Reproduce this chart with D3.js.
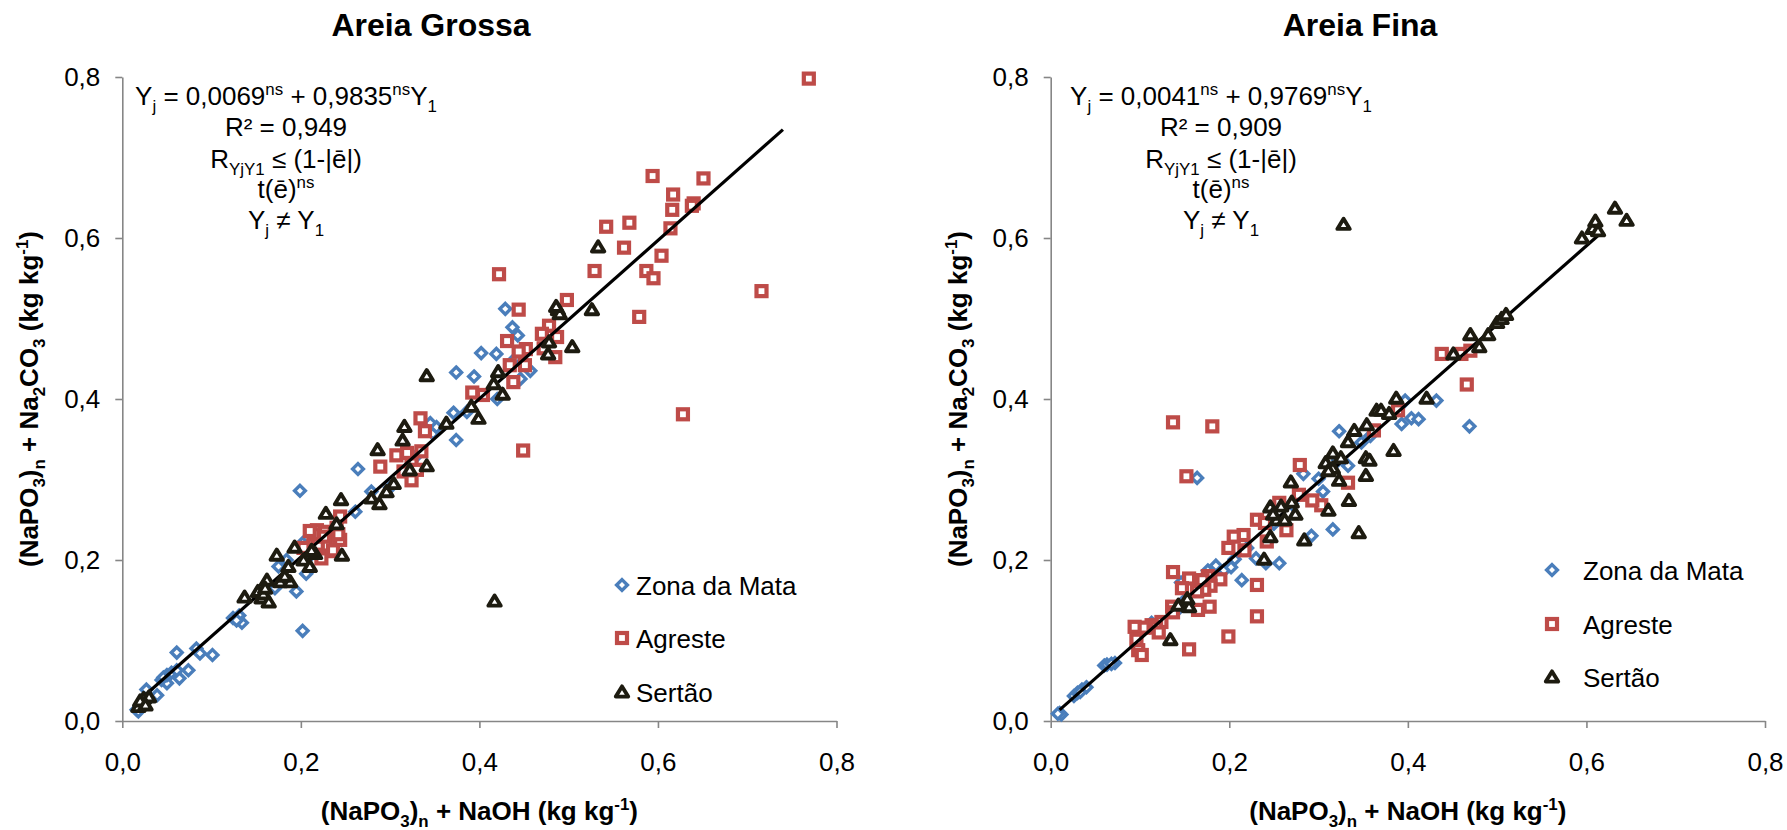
<!DOCTYPE html>
<html>
<head>
<meta charset="utf-8">
<script src="https://cdn.jsdelivr.net/npm/d3@7"></script>
<style>
  body { margin: 0; background: #fff; }
  svg { display: block; }
  text { font-family: "Liberation Sans", Arial, Helvetica, sans-serif; fill: #000; }
</style>
</head>
<body>
<svg id="chart" width="1787" height="830"></svg>
<script>
// ---- data -------------------------------------------------------------
const tickValues = [0, 0.2, 0.4, 0.6, 0.8];
const seriesNames = ["Zona da Mata", "Agreste", "Sertão"];
const panelTitles = ["Areia Grossa", "Areia Fina"];

// Areia Grossa: [(NaPO3)n + NaOH, (NaPO3)n + Na2CO3]
const grossaMata = [
  [0.016,0.014],[0.020,0.016],[0.018,0.012],[0.022,0.019],[0.027,0.039],[0.030,0.028],
  [0.039,0.032],[0.044,0.051],[0.050,0.047],[0.050,0.057],[0.046,0.054],[0.055,0.060],
  [0.064,0.053],[0.061,0.063],[0.074,0.063],[0.061,0.085],[0.083,0.090],[0.087,0.084],
  [0.101,0.082],[0.124,0.128],[0.131,0.131],[0.134,0.122],[0.128,0.125],[0.171,0.165],
  [0.175,0.192],[0.184,0.200],[0.195,0.161],[0.202,0.112],[0.206,0.183],[0.202,0.221],
  [0.199,0.286],[0.210,0.205],[0.225,0.215],[0.261,0.260],[0.264,0.313],[0.279,0.285],
  [0.300,0.290],[0.345,0.370],[0.348,0.357],[0.352,0.365],[0.371,0.383],[0.374,0.349],
  [0.374,0.433],[0.386,0.384],[0.394,0.428],[0.402,0.457],[0.419,0.456],[0.429,0.512],
  [0.437,0.489],[0.443,0.479],[0.446,0.425],[0.457,0.435],[0.420,0.400],[0.440,0.450],
  [0.330,0.330],[0.320,0.315]
];
const grossaAgreste = [
  [0.769,0.798],[0.594,0.677],[0.651,0.674],[0.617,0.654],[0.616,0.635],[0.640,0.643],
  [0.638,0.640],[0.614,0.612],[0.542,0.614],[0.568,0.619],[0.562,0.588],[0.604,0.578],
  [0.529,0.559],[0.587,0.559],[0.595,0.550],[0.716,0.534],[0.422,0.555],[0.579,0.502],
  [0.498,0.523],[0.444,0.511],[0.628,0.381],[0.478,0.491],[0.470,0.481],[0.487,0.477],
  [0.431,0.472],[0.452,0.462],[0.472,0.463],[0.485,0.452],[0.444,0.459],[0.434,0.442],
  [0.451,0.442],[0.438,0.421],[0.392,0.408],[0.404,0.405],[0.334,0.376],[0.339,0.360],
  [0.449,0.336],[0.289,0.316],[0.307,0.330],[0.319,0.333],[0.335,0.335],[0.324,0.320],
  [0.315,0.310],[0.324,0.299],[0.330,0.312],[0.244,0.254],[0.218,0.237],[0.227,0.235],
  [0.238,0.233],[0.214,0.225],[0.224,0.225],[0.235,0.225],[0.244,0.225],[0.203,0.215],
  [0.221,0.211],[0.231,0.211],[0.223,0.202],[0.232,0.222],[0.240,0.240],[0.215,0.232],
  [0.228,0.218],[0.236,0.212],[0.219,0.219],[0.242,0.232],[0.210,0.236],[0.226,0.229]
];
const grossaSertao = [
  [0.533,0.589],[0.488,0.511],[0.490,0.506],[0.486,0.515],[0.526,0.511],[0.478,0.471],
  [0.504,0.465],[0.477,0.456],[0.341,0.429],[0.421,0.434],[0.416,0.419],[0.426,0.406],
  [0.391,0.391],[0.399,0.376],[0.363,0.370],[0.316,0.366],[0.314,0.349],[0.286,0.337],
  [0.322,0.312],[0.341,0.317],[0.304,0.295],[0.296,0.285],[0.279,0.277],[0.288,0.270],
  [0.245,0.275],[0.228,0.258],[0.240,0.245],[0.216,0.208],[0.246,0.206],[0.193,0.216],
  [0.203,0.200],[0.210,0.192],[0.173,0.206],[0.186,0.192],[0.162,0.175],[0.177,0.173],
  [0.188,0.173],[0.152,0.161],[0.137,0.154],[0.156,0.153],[0.164,0.148],[0.417,0.149],
  [0.022,0.022],[0.024,0.028],[0.030,0.030],[0.018,0.018],[0.020,0.025],[0.026,0.020],
  [0.212,0.212],[0.158,0.158],[0.160,0.165],[0.182,0.180]
];

// Areia Fina
const finaMata = [
  [0.010,0.010],[0.012,0.008],[0.008,0.009],[0.026,0.031],[0.030,0.035],[0.035,0.039],
  [0.040,0.042],[0.033,0.036],[0.060,0.069],[0.063,0.070],[0.072,0.072],[0.068,0.071],
  [0.113,0.122],[0.143,0.139],[0.146,0.172],[0.164,0.302],[0.176,0.187],[0.185,0.193],
  [0.194,0.187],[0.202,0.191],[0.206,0.201],[0.214,0.175],[0.230,0.202],[0.241,0.196],
  [0.256,0.196],[0.292,0.230],[0.316,0.238],[0.283,0.307],[0.300,0.301],[0.305,0.285],
  [0.322,0.324],[0.333,0.317],[0.323,0.360],[0.348,0.346],[0.358,0.354],[0.393,0.369],
  [0.397,0.398],[0.404,0.376],[0.412,0.375],[0.432,0.398],[0.469,0.366],[0.270,0.270],
  [0.250,0.245],[0.220,0.215],[0.150,0.150],[0.120,0.115]
];
const finaAgreste = [
  [0.137,0.371],[0.181,0.366],[0.152,0.304],[0.466,0.418],[0.438,0.456],[0.460,0.456],
  [0.389,0.386],[0.362,0.361],[0.333,0.296],[0.279,0.318],[0.303,0.268],[0.293,0.274],
  [0.278,0.281],[0.264,0.237],[0.256,0.271],[0.231,0.250],[0.240,0.246],[0.242,0.223],
  [0.216,0.231],[0.205,0.229],[0.199,0.215],[0.217,0.212],[0.231,0.169],[0.231,0.130],
  [0.199,0.105],[0.155,0.089],[0.137,0.185],[0.155,0.177],[0.176,0.180],[0.190,0.176],
  [0.179,0.168],[0.172,0.163],[0.178,0.142],[0.165,0.138],[0.147,0.165],[0.136,0.142],
  [0.137,0.135],[0.124,0.123],[0.113,0.119],[0.104,0.116],[0.094,0.117],[0.096,0.101],
  [0.098,0.088],[0.102,0.082],[0.118,0.116],[0.121,0.110],[0.164,0.161],[0.170,0.175],
  [0.470,0.460]
];
const finaSertao = [
  [0.451,0.456],[0.421,0.401],[0.387,0.401],[0.365,0.386],[0.370,0.386],[0.379,0.382],
  [0.354,0.368],[0.340,0.361],[0.333,0.347],[0.384,0.336],[0.353,0.327],[0.357,0.324],
  [0.353,0.305],[0.316,0.333],[0.325,0.327],[0.308,0.321],[0.316,0.314],[0.311,0.311],
  [0.323,0.299],[0.334,0.274],[0.311,0.262],[0.269,0.297],[0.270,0.272],[0.274,0.257],
  [0.258,0.267],[0.253,0.250],[0.246,0.266],[0.249,0.257],[0.262,0.250],[0.345,0.234],
  [0.284,0.225],[0.246,0.229],[0.239,0.201],[0.155,0.142],[0.143,0.144],[0.153,0.152],
  [0.134,0.101],[0.328,0.617],[0.595,0.600],[0.607,0.612],[0.610,0.621],[0.613,0.609],
  [0.632,0.637],[0.645,0.622],[0.480,0.465],[0.490,0.480],[0.500,0.495],[0.505,0.500],
  [0.510,0.505],[0.470,0.480]
];

// fitted lines: Yj = a + b*Y1, drawn over the given Y1 range
const grossaFit = { a: 0.0069, b: 0.9835, range: [0.015, 0.74] };
const finaFit   = { a: 0.0041, b: 0.9769, range: [0.010, 0.615] };

// annotation blocks (pieces: plain text, subscript, superscript)
const grossaStats = [
  [["Y"],["j","sub"],[" = 0,0069"],["ns","sup"],[" + 0,9835"],["ns","sup"],["Y"],["1","sub"]],
  [["R² = 0,949"]],
  [["R"],["YjY1","sub"],[" ≤ (1-|ē|)"]],
  [["t(ē)"],["ns","sup"]],
  [["Y"],["j","sub"],[" ≠ Y"],["1","sub"]]
];
const finaStats = [
  [["Y"],["j","sub"],[" = 0,0041"],["ns","sup"],[" + 0,9769"],["ns","sup"],["Y"],["1","sub"]],
  [["R² = 0,909"]],
  [["R"],["YjY1","sub"],[" ≤ (1-|ē|)"]],
  [["t(ē)"],["ns","sup"]],
  [["Y"],["j","sub"],[" ≠ Y"],["1","sub"]]
];

const xTitle = [["(NaPO"],["3","sub"],[")"],["n","sub"],[" + NaOH (kg kg"],["-1","sup"],[")"]];
const yTitle = [["(NaPO"],["3","sub"],[")"],["n","sub"],[" + Na"],["2","sub"],["CO"],["3","sub"],[" (kg kg"],["-1","sup"],[")"]];

// ---- drawing ----------------------------------------------------------
const colors = ["#4A7EBB", "#BE4B48", "#1D1B10"];
const axisGray = "#868686";
const FS = 26;

const locale = d3.formatLocale({ decimal: ",", thousands: ".", grouping: [3], currency: ["", ""] });
const fmt = locale.format(".1f");

const svg = d3.select("#chart");

function rich(textSel, parts, size) {
  let cur = 0;
  parts.forEach(([t, kind]) => {
    const off = kind === "sub" ? 0.28 * size : kind === "sup" ? -0.4 * size : 0;
    const ts = textSel.append("tspan").text(t);
    if (off - cur !== 0) ts.attr("dy", off - cur);
    if (kind) ts.attr("font-size", size * 0.65);
    cur = off;
  });
}

function marker(g, kind, color) {
  if (kind === 0) {
    g.append("path").attr("d", "M0,-5.4L5.4,0L0,5.4L-5.4,0Z")
      .attr("fill", "#fff").attr("stroke", color).attr("stroke-width", 3.4);
  } else if (kind === 1) {
    g.append("rect").attr("x", -5).attr("y", -5).attr("width", 10).attr("height", 10)
      .attr("fill", "#fff").attr("stroke", color).attr("stroke-width", 4.2);
  } else {
    g.append("path").attr("d", "M0,-5.6L6.2,4.6L-6.2,4.6Z")
      .attr("fill", "#fff").attr("stroke", color).attr("stroke-width", 3.9)
      .attr("stroke-linejoin", "round");
  }
}

const panels = [
  { x0: 122.3, x1: 836.5, title: panelTitles[0], titleX: 431, statsX: 286,
    series: [grossaMata, grossaAgreste, grossaSertao], fit: grossaFit, stats: grossaStats,
    legendX: 622, legendTextX: 636, legendY: [585, 638, 692], yTitleX: 38 },
  { x0: 1050.7, x1: 1765, title: panelTitles[1], titleX: 1360, statsX: 1221,
    series: [finaMata, finaAgreste, finaSertao], fit: finaFit, stats: finaStats,
    legendX: 1552, legendTextX: 1583, legendY: [570, 624, 677], yTitleX: 967 }
];
const yTop = 77, yBottom = 721;

panels.forEach(p => {
  const x = d3.scaleLinear().domain([0, 0.8]).range([p.x0, p.x1]);
  const y = d3.scaleLinear().domain([0, 0.8]).range([yBottom, yTop]);
  const g = svg.append("g");

  // axes
  const xAxis = d3.axisBottom(x).tickValues(tickValues).tickFormat(fmt)
    .tickSize(7).tickSizeOuter(0).tickPadding(24.5);
  const yAxis = d3.axisLeft(y).tickValues(tickValues).tickFormat(fmt)
    .tickSize(7).tickSizeOuter(0).tickPadding(15);
  [g.append("g").attr("transform", `translate(0,${yBottom})`).call(xAxis),
   g.append("g").attr("transform", `translate(${p.x0},0)`).call(yAxis)].forEach(a => {
    a.selectAll("path,line").attr("stroke", axisGray).attr("stroke-width", 1.6);
    a.selectAll("text").attr("font-size", FS).attr("fill", "#000")
      .style("font-family", '"Liberation Sans", Arial, sans-serif');
  });

  // title
  g.append("text").attr("x", p.titleX).attr("y", 36).attr("text-anchor", "middle")
    .attr("font-size", 32).attr("font-weight", "bold").text(p.title);

  // axis titles
  const xt = g.append("text").attr("x", (p.x0 + p.x1) / 2).attr("y", 820)
    .attr("text-anchor", "middle").attr("font-size", FS).attr("font-weight", "bold");
  rich(xt, xTitle, FS);
  const yt = g.append("text")
    .attr("transform", `translate(${p.yTitleX},${(yTop + yBottom) / 2}) rotate(-90)`)
    .attr("text-anchor", "middle").attr("font-size", FS).attr("font-weight", "bold");
  rich(yt, yTitle, FS);

  // points and fitted line
  const drawSeries = i => {
    const sg = g.append("g");
    p.series[i].forEach(d => {
      const m = sg.append("g").attr("transform", `translate(${x(d[0])},${y(d[1])})`);
      marker(m, i, colors[i]);
    });
  };
  drawSeries(0);
  drawSeries(1);
  const line = d3.line().x(d => x(d)).y(d => y(p.fit.a + p.fit.b * d));
  g.append("path").datum(p.fit.range).attr("d", line)
    .attr("fill", "none").attr("stroke", "#000").attr("stroke-width", 3.2);
  drawSeries(2);

  // statistics block
  const baselines = [105, 136, 168, 198, 229];
  p.stats.forEach((parts, i) => {
    const t = g.append("text").attr("x", p.statsX).attr("y", baselines[i])
      .attr("text-anchor", "middle").attr("font-size", FS);
    rich(t, parts, FS);
  });

  // legend
  seriesNames.forEach((name, i) => {
    const m = g.append("g").attr("transform", `translate(${p.legendX},${p.legendY[i]})`);
    marker(m, i, colors[i]);
    g.append("text").attr("x", p.legendTextX).attr("y", p.legendY[i] + 9.5)
      .attr("font-size", FS).text(name);
  });
});
</script>
</body>
</html>
